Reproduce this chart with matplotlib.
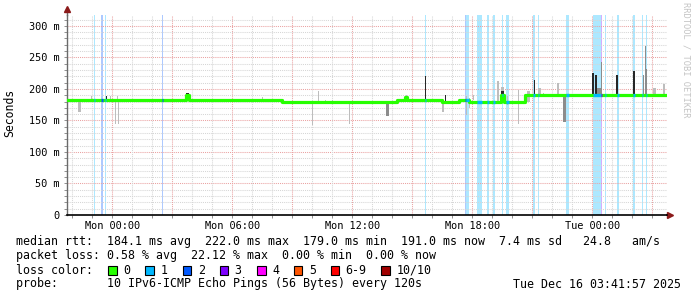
import numpy as np
import matplotlib
matplotlib.use('Agg')
import matplotlib.pyplot as plt
from matplotlib.patches import Rectangle

# время в часах от Mon 00:00, окно 30 часов
t_start, t_end = -2.28, 27.72

tick_hours = [0, 6, 12, 18, 24]
tick_labels = ['Mon 00:00', 'Mon 06:00', 'Mon 12:00', 'Mon 18:00', 'Tue 00:00']
ytick_ms = [0, 50, 100, 150, 200, 250, 300]
ytick_labels = ['0', '50 m', '100 m', '150 m', '200 m', '250 m', '300 m']

# медиана rtt (мс), ступеньки
median_t = [-2.28, 3.67, 3.83, 8.46, 14.21, 14.65, 14.75, 16.46, 17.33, 17.83,
            19.43, 19.58, 20.63, 27.72]
median_v = [183, 191, 183, 179, 182, 187, 182, 179, 183, 179,
            190, 179, 191, 191]

# "дым": разброс пингов (начало, конец, мин, макс, оттенок 0-светлый 1-средний 2-тёмный)
smoke_t0 = [-1.73, -1.08, -0.33, -0.13, 0.13, 0.23, 0.28, 3.67, 7.46, 9.96,
            10.29, 10.63, 10.98, 11.83, 13.68, 14.68, 15.64, 16.48, 16.63, 17.68,
            17.83, 18.03, 19.23, 19.43, 19.43, 19.73, 20.28, 20.73, 21.06, 21.28,
            21.53, 22.23, 22.53, 23.99, 24.13, 24.23, 24.42, 25.18, 26.03, 26.51,
            26.65, 26.70, 27.03, 27.51]
smoke_t1 = [-1.58, -1.03, -0.28, -0.08, 0.18, 0.28, 0.33, 3.83, 7.51, 10.01,
            10.34, 10.68, 11.03, 11.88, 13.83, 14.73, 15.69, 16.58, 16.70, 17.73,
            17.88, 18.08, 19.33, 19.58, 19.58, 19.78, 20.33, 20.88, 21.11, 21.43,
            21.58, 22.33, 22.68, 24.09, 24.23, 24.42, 24.47, 25.28, 26.11, 26.58,
            26.70, 26.75, 27.18, 27.64]
smoke_lo = [163, 181, 181, 181, 144, 181, 144, 183, 181, 143,
            179, 179, 179, 144, 157, 182, 182, 164, 177, 159,
            170, 182, 179, 179, 179, 175, 144, 179, 190, 191,
            191, 191, 148, 191, 191, 191, 191, 191, 191, 191,
            191, 191, 191, 191]
smoke_hi = [183, 188, 189, 188, 183, 188, 183, 193, 187, 179,
            197, 182, 182, 179, 179, 190, 221, 182, 190, 188,
            186, 190, 213, 203, 197, 188, 199, 197, 214, 202,
            194, 209, 191, 226, 222, 201, 242, 222, 229, 222,
            268, 231, 201, 208]
smoke_shade = [0, 0, 2, 0, 0, 0, 0, 2, 0, 0,
               0, 0, 0, 0, 1, 0, 2, 0, 2, 0,
               0, 0, 0, 0, 2, 0, 0, 0, 2, 0,
               0, 0, 1, 2, 2, 1, 1, 2, 2, 1,
               1, 1, 0, 0]

# потери пакетов (начало, конец, сколько из 10)
loss_t0 = [-0.93, -0.56, -0.38, 2.47, 15.62, 17.62, 17.67, 18.23, 18.73, 19.03,
           19.47, 19.68, 21.03, 21.26, 22.68, 24.01, 24.41, 24.61, 25.22, 26.02,
           26.47, 26.66]
loss_t1 = [-0.88, -0.48, -0.33, 2.52, 15.67, 17.67, 17.85, 18.48, 18.83, 19.13,
           19.52, 19.83, 21.13, 21.31, 22.83, 24.41, 24.46, 24.66, 25.32, 26.11,
           26.52, 26.71]
loss_n = [1, 2, 1, 2, 1, 2, 1, 1, 1, 1,
          1, 1, 1, 1, 1, 1, 3, 1, 1, 1,
          1, 1]

loss_names = ['0', '1', '2', '3', '4', '5', '6-9', '10/10']
loss_colors = ['#26ff00', '#00b8ff', '#0059ff', '#7e00ff', '#ff00ff', '#ff5500', '#ff0000', '#a10000']

W, H = 697, 297
fig = plt.figure(figsize=(W / 100, H / 100), dpi=100)
ax = fig.add_axes([66.7 / W, (H - 215) / H, 600 / W, 200.5 / H])
ax.set_xlim(t_start, t_end)
ax.set_ylim(0, 318)

mono = 'DejaVu Sans Mono'

# сетка
for y in range(10, 318, 10):
    major = y % 50 == 0
    ax.axhline(y, color='#eaa2a2' if major else '#d6d6d6', lw=0.75,
               ls=(0, (1, 1)), zorder=2)
for h in range(-2, 28):
    major = h % 3 == 0
    ax.axvline(h, color='#eaa2a2' if major else '#d6d6d6', lw=0.75,
               ls=(0, (1, 1)), zorder=2)

# полосы потерь
for a, b, n in zip(loss_t0, loss_t1, loss_n):
    ax.axvspan(a, b, color=loss_colors[n], alpha=0.32, lw=0, zorder=1)

# дым
shade_colors = ['#bdbdbd', '#8c8c8c', '#262626']
for a, b, lo, hi, s in zip(smoke_t0, smoke_t1, smoke_lo, smoke_hi, smoke_shade):
    ax.bar(a, hi - lo, width=b - a, bottom=lo, align='edge',
           color=shade_colors[s], lw=0, zorder=3)

# медиана
ax.step(median_t, median_v, where='post', color=loss_colors[0], lw=2.3, zorder=4)
mt = np.array(median_t)
for a, b, n in zip(loss_t0, loss_t1, loss_n):
    v = median_v[np.searchsorted(mt, a, side='right') - 1]
    ax.plot([a, b], [v, v], color=loss_colors[n], lw=2.3, zorder=5,
            solid_capstyle='butt')

# оси
for s in ['top', 'right']:
    ax.spines[s].set_visible(False)
ax.spines['left'].set_color('#6a6a6a')
ax.spines['bottom'].set_color('black')
ax.spines['left'].set_linewidth(1)
ax.spines['bottom'].set_linewidth(1.2)

ax.set_xticks(tick_hours)
ax.set_xticklabels(tick_labels, fontfamily=mono, fontsize=7.4)
ax.set_xticks(range(-2, 28), minor=True)
ax.set_yticks(ytick_ms)
ax.set_yticklabels(ytick_labels, fontfamily=mono, fontsize=7.4)
ax.set_yticks(range(0, 318, 10), minor=True)
ax.tick_params(axis='both', which='both', length=2, width=0.7, color='#909090')
ax.tick_params(axis='x', pad=2.5)
ax.tick_params(axis='y', pad=3.2)

# стрелки
arrow = '#8b1a1a'
ax.plot([0, 0], [1, 1.028], transform=ax.transAxes, color='#6a6a6a', lw=1, clip_on=False)
ax.plot([0], [1.025], marker='^', ms=4, color=arrow, transform=ax.transAxes, clip_on=False)
ax.plot([1, 1.006], [0, 0], transform=ax.transAxes, color='black', lw=1.2, clip_on=False)
ax.plot([1.006], [0], marker='>', ms=4, color=arrow, transform=ax.transAxes, clip_on=False)

def ftext(x, y, s, **kw):
    fig.text(x / W, 1 - y / H, s, fontfamily=mono, va='center', **kw)

ftext(10, 113, 'Seconds', fontsize=8.3, rotation=90, ha='center')
ftext(686, 60, 'RRDTOOL / TOBI OETIKER', fontsize=6.3, rotation=270,
      ha='center', color='#c4c4c4')

fs = 8.35
ftext(16, 241, 'median rtt:  184.1 ms avg  222.0 ms max  179.0 ms min  '
      '191.0 ms now  7.4 ms sd   24.8   am/s', fontsize=fs)
ftext(16, 256, 'packet loss: 0.58 % avg  22.12 % max  0.00 % min  0.00 % now',
      fontsize=fs)
ftext(16, 270, 'loss color:', fontsize=fs)
box_x = [108, 145.3, 182.7, 219.6, 257, 293.8, 330.7, 381.3]
for bx, name, c in zip(box_x, loss_names, loss_colors):
    fig.patches.append(Rectangle((bx / W, 1 - 274.5 / H), 8.5 / W, 9 / H,
                                 transform=fig.transFigure, facecolor=c,
                                 edgecolor='black', lw=0.8))
    ftext(bx + 15, 270, name, fontsize=fs)
ftext(16, 284, 'probe:       10 IPv6-ICMP Echo Pings (56 Bytes) every 120s',
      fontsize=fs)
ftext(681, 284, 'Tue Dec 16 03:41:57 2025', fontsize=fs, ha='right')

fig.savefig('out.png', dpi=100)
